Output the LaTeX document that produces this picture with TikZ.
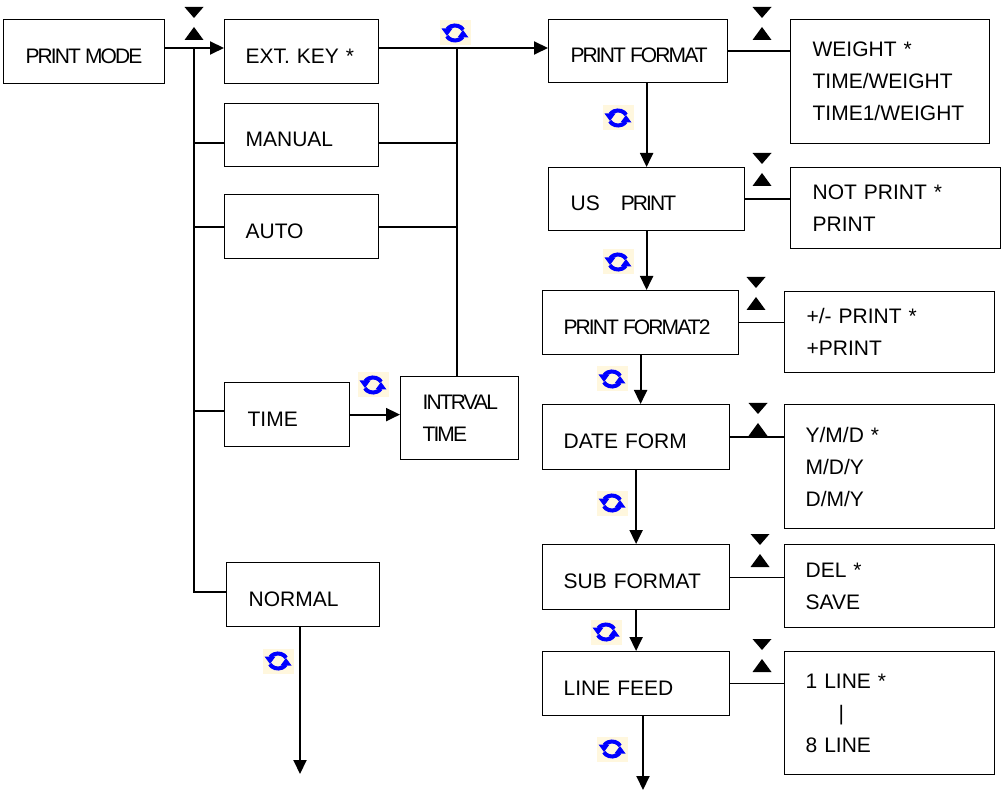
\documentclass[tikz,border=0pt]{standalone}
\usepackage{fontspec}
\setmainfont{Liberation Sans}
\newfontfamily\tightfont[LetterSpace=-9]{Liberation Sans}
\usetikzlibrary{arrows.meta}
\definecolor{iconbg}{RGB}{255,247,222}
\definecolor{cycblue}{RGB}{0,0,255}

\begin{document}
\begin{tikzpicture}[x=1pt, y=-1pt, font=\fontsize{21}{32}\selectfont,
	box/.style n args={3}{draw, line width=1.2pt, anchor=north west, inner sep=0pt,
		align=left, minimum width=#1pt, text width=#1pt, minimum height=#2pt,
		execute at begin node={\leftskip=#3pt}},
	one/.style={text height=23pt, text depth=0pt},
	ln/.style={line width=1.2pt},
	arr/.style={line width=2pt, -{Triangle[length=14pt,width=13pt]}},
	updn/.pic={\fill (-9.5,0) -- (9.5,0) -- (0,11) -- cycle;
		\fill (0,20) -- (9.5,33) -- (-9.5,33) -- cycle;},
	cyc/.pic={\fill[iconbg] (-15.5,-12.5) rectangle (15.5,12.5);
		\draw[cycblue, line width=4pt]
		(25:9pt and 7.5pt) arc[start angle=25, end angle=150, x radius=9pt, y radius=7.5pt]
		(205:9pt and 7.5pt) arc[start angle=205, end angle=330, x radius=9pt, y radius=7.5pt];
		\fill[cycblue] (-13.5pt,4.5pt) -- (-2.5pt,4.5pt) -- (-8pt,-3pt) -- cycle;
		\fill[cycblue] (13.5pt,-4.5pt) -- (2.5pt,-4.5pt) -- (8pt,3pt) -- cycle;}]
	\useasboundingbox (0,0) rectangle (1007,791);
	% left column
	\node[box={161}{64}{22}, one] (pmode) at (3,19) {\tightfont PRINT\hspace{-3pt} MODE};
	\node[box={154}{64}{21}, one] (extkey) at (224,19) {EXT. KEY *};
	\node[box={154}{63}{21}, one] (manual) at (224,103) {MANUAL};
	\node[box={154}{64}{21}, one] (autom) at (224,194) {AUTO};
	\node[box={125}{64}{23}, one] (time) at (224,382) {TIME};
	\node[box={118}{83}{22}] (intrval) at (400,376) {\tightfont INTRVAL\\\tightfont TIME};
	\node[box={153}{64}{22}, one] (normal) at (226,562) {NORMAL};
	% right column
	\node[box={179}{63}{22}, one] (pfmt) at (548,19) {\tightfont PRINT\hspace{-3pt} FORMAT};
	\node[box={196}{63}{22}, one] (usprt) at (548,167) {US\ \ \ {\tightfont PRINT}};
	\node[box={196}{64}{21}, one] (pfmt2) at (542,290) {\tightfont PRINT\hspace{-3pt} FORMAT2};
	\node[box={187}{65}{21}, one] (datefm) at (542,404) {DATE FORM};
	\node[box={187}{65}{21}, one] (subfm) at (542,544) {SUB FORMAT};
	\node[box={187}{64}{21}, one] (lfeed) at (542,651) {LINE FEED};
	% choices
	\node[box={199}{124}{22}] (weight) at (790,19) {WEIGHT *\\TIME/WEIGHT\\TIME1/WEIGHT};
	\node[box={210}{81}{22}] (notprt) at (790,167) {NOT PRINT *\\PRINT};
	\node[box={210}{81}{22}] (pmsign) at (784,291) {+/- PRINT *\\+PRINT};
	\node[box={210}{124}{21}] (ymd) at (784,404) {Y/M/D *\\M/D/Y\\D/M/Y};
	\node[box={210}{83}{21}] (delsave) at (784,544) {DEL *\\SAVE};
	\node[box={210}{123}{21}] (lines) at (784,651) {1 LINE *\\\hspace*{33pt}|\\8 LINE};
	% bus points
	\coordinate (b1) at (194,48);
	\coordinate (b2) at (194,143);
	\coordinate (b3) at (194,227);
	\coordinate (b4) at (194,411);
	\coordinate (b5) at (194,592);
	\coordinate (c1) at (457,48);
	\coordinate (c2) at (457,143);
	\coordinate (c3) at (457,227);
	\coordinate (e1) at (300,774);
	\coordinate (e2) at (643,790);
	\draw[ln] (pmode.east |- b1) -- (b1) -- (b5) -- (b5 -| normal.west);
	\draw[ln] (b2) -- (b2 -| manual.west) (b3) -- (b3 -| autom.west) (b4) -- (b4 -| time.west);
	\draw[ln] (extkey.east |- c1) -- (c1) -- (c1 |- intrval.north);
	\draw[ln] (manual.east |- c2) -- (c2) (autom.east |- c3) -- (c3);
	\path[arr]
	(b1) edge (b1 -| extkey.west)
	(c1) edge (c1 -| pfmt.west)
	(time.east) edge (time.east -| intrval.west)
	(normal.south -| e1) edge (e1);
	\path[arr]
	(pfmt.south -| usprt.north) edge (usprt.north)
	(usprt.south) edge (usprt.south |- pfmt2.north)
	(pfmt2.south) edge (pfmt2.south |- datefm.north)
	(datefm.south) edge (datefm.south |- subfm.north)
	(subfm.south) edge (subfm.south |- lfeed.north)
	(lfeed.south -| e2) edge (e2);
	\path[ln]
	(pfmt.east) edge (pfmt.east -| weight.west)
	(usprt.east) edge (usprt.east -| notprt.west)
	(pfmt2.east) edge (pfmt2.east -| pmsign.west)
	(datefm.east) edge (datefm.east -| ymd.west)
	(subfm.east) edge (subfm.east -| delsave.west)
	(lfeed.east) edge (lfeed.east -| lines.west);
	% icons
	\pic at (194,7) {updn};
	\pic at (762,7) {updn};
	\pic at (762,153) {updn};
	\pic at (756,277) {updn};
	\pic at (758,403) {updn};
	\pic at (760,534) {updn};
	\pic at (762,639) {updn};
	\foreach \p in {(455,33),(373,385),(278,661),(618,118),(618,262),
		(612,379),(612,503),(606,632),(612,749)}
		\pic at \p {cyc};
\end{tikzpicture}
\end{document}
